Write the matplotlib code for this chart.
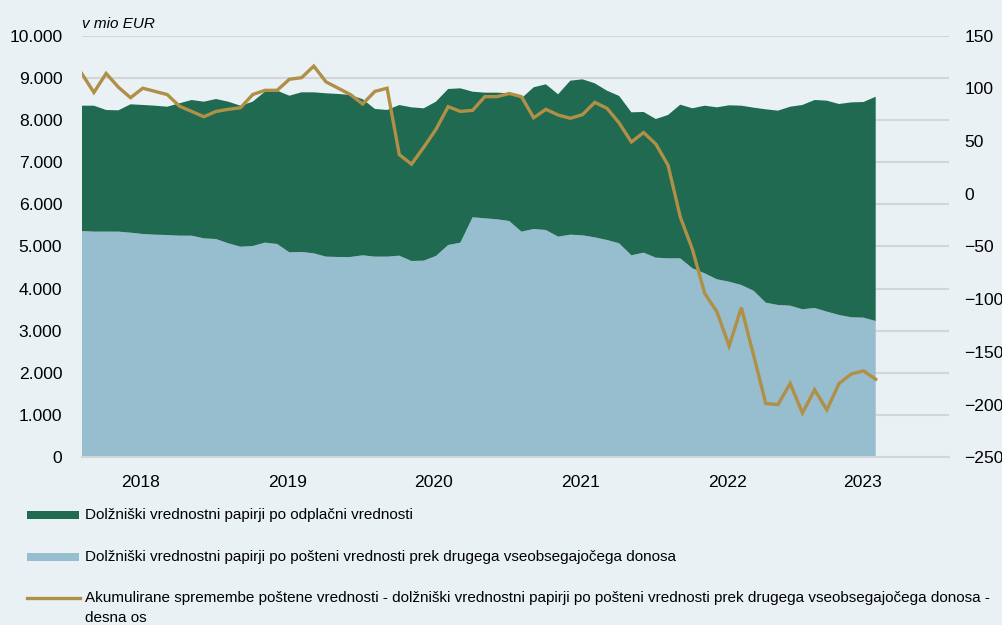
import matplotlib
matplotlib.use('Agg')
import matplotlib.pyplot as plt
from matplotlib.ticker import FuncFormatter
from matplotlib.patches import Rectangle
from matplotlib.lines import Line2D
import numpy as np

# ---------------- data (monthly) ----------------
fair_value = [5365, 5350, 5350, 5350, 5325, 5294, 5278, 5270, 5254, 5254, 5191, 5175,
              5073, 4994, 5010, 5089, 5057, 4860, 4868, 4836, 4757, 4749, 4749, 4789,
              4757, 4757, 4780, 4654, 4662, 4773, 5033, 5089, 5690, 5666, 5642, 5602,
              5349, 5413, 5389, 5231, 5278, 5262, 5215, 5152, 5073, 4789, 4852, 4733,
              4717, 4717, 4480, 4362, 4220, 4163, 4085, 3950, 3666, 3611, 3595, 3509,
              3540, 3453, 3374, 3319, 3311, 3231]
amortised_cost = [2971, 2986, 2884, 2876, 3044, 3059, 3058, 3042, 3138, 3217, 3240, 3319,
                  3358, 3342, 3421, 3579, 3635, 3713, 3785, 3817, 3873, 3865, 3840, 3701,
                  3503, 3477, 3572, 3643, 3612, 3658, 3699, 3659, 2978, 2979, 3003, 3028,
                  3162, 3359, 3454, 3375, 3651, 3699, 3652, 3540, 3493, 3390, 3335, 3287,
                  3398, 3643, 3794, 3974, 4077, 4182, 4251, 4340, 4584, 4607, 4717, 4844,
                  4931, 5002, 5002, 5096, 5112, 5318]
accum_changes = [114, 96, 114, 101, 91, 100, 97, 94, 83, 78, 73, 78,
                 80, 81.5, 94, 98, 98, 108.5, 110, 121, 106, 100, 94, 85,
                 97, 100, 37, 28, 44, 61, 82.5, 78, 79, 92, 92, 95,
                 92, 72, 80, 74.6, 71.5, 75, 86.6, 81, 67, 49, 58, 47,
                 27, -22, -53, -94.5, -112, -144.5, -108, -153, -199, -200, -180, -208,
                 -186, -205, -180, -171, -168, -176]
year_labels = ['2018', '2019', '2020', '2021', '2022', '2023']
year_label_pos = [4.85, 16.86, 28.83, 40.86, 52.86, 63.88]

series_names = ['Dolžniški vrednostni papirji po odplačni vrednosti',
                'Dolžniški vrednostni papirji po pošteni vrednosti prek drugega vseobsegajočega donosa',
                'Akumulirane spremembe poštene vrednosti - dolžniški vrednostni papirji po pošteni vrednosti prek drugega vseobsegajočega donosa -',
                'desna os']

# ---------------- style ----------------
BG = '#e9f1f5'
GREEN = '#1f6a50'
LBLUE = '#97bece'
GOLD = '#b08f46'
GRID = '#d3d5d8'
plt.rcParams['font.family'] = ['Liberation Sans', 'DejaVu Sans']
TICK_FS = 12.6
LEG_FS = 11.0

W, H = 1003, 625
fig = plt.figure(figsize=(W / 100, H / 100), dpi=100, facecolor=BG)
L, R, T, B = 81.7, 949, 35.5, 457.3
ax = fig.add_axes([L / W, 1 - B / H, (R - L) / W, (B - T) / H])
ax.set_facecolor(BG)

x = np.arange(len(fair_value))
ax.stackplot(x, fair_value, amortised_cost, colors=[LBLUE, GREEN], linewidth=0, zorder=2)
ax.set_xlim(0, 71)
ax.set_ylim(0, 10000)
ax.set_yticks(range(0, 10001, 1000))
ax.yaxis.set_major_formatter(FuncFormatter(lambda v, p: f'{int(v):,}'.replace(',', '.')))
ax.yaxis.grid(True, color=GRID, lw=1.5, zorder=0)
ax.set_axisbelow(True)
ax.set_xticks(year_label_pos)
ax.set_xticklabels(year_labels)
ax.tick_params(axis='x', length=0, pad=13, labelsize=TICK_FS)
ax.tick_params(axis='y', length=0, pad=14, labelsize=TICK_FS)
for s in ['top', 'left', 'right']:
    ax.spines[s].set_visible(False)
ax.spines['bottom'].set_color(GRID)
ax.spines['bottom'].set_linewidth(1.5)
ax.spines['bottom'].set_zorder(3)

ax2 = ax.twinx()
ax2.plot(x, accum_changes, color=GOLD, lw=2.4, zorder=4, solid_joinstyle='miter')
ax2.set_ylim(-250, 150)
ax2.set_yticks(range(-250, 151, 50))
ax2.tick_params(axis='y', length=0, pad=11, labelsize=TICK_FS)
for lab in ax2.get_yticklabels():
    lab.set_horizontalalignment('left')
for s in ax2.spines.values():
    s.set_visible(False)

fig.text(L / W, 1 - 24 / H, 'v mio EUR', style='italic', fontsize=LEG_FS, va='center', ha='left')

# ---------------- legend ----------------
def fy(py):
    return 1 - py / H

fig.patches.append(Rectangle((27 / W, fy(519)), 52 / W, 8 / H, transform=fig.transFigure,
                             facecolor=GREEN, edgecolor='none'))
fig.text(85 / W, fy(515), series_names[0], fontsize=LEG_FS, va='center', ha='left')
fig.patches.append(Rectangle((27 / W, fy(561)), 52 / W, 8 / H, transform=fig.transFigure,
                             facecolor=LBLUE, edgecolor='none'))
fig.text(85 / W, fy(557), series_names[1], fontsize=LEG_FS, va='center', ha='left')
fig.lines.append(Line2D([27 / W, 80 / W], [fy(598), fy(598)], transform=fig.transFigure,
                        color=GOLD, lw=2.4))
fig.text(85 / W, fy(598), series_names[2], fontsize=LEG_FS, va='center', ha='left')
fig.text(85 / W, fy(618), series_names[3], fontsize=LEG_FS, va='center', ha='left')

fig.savefig('out.png', dpi=100, facecolor=BG)
